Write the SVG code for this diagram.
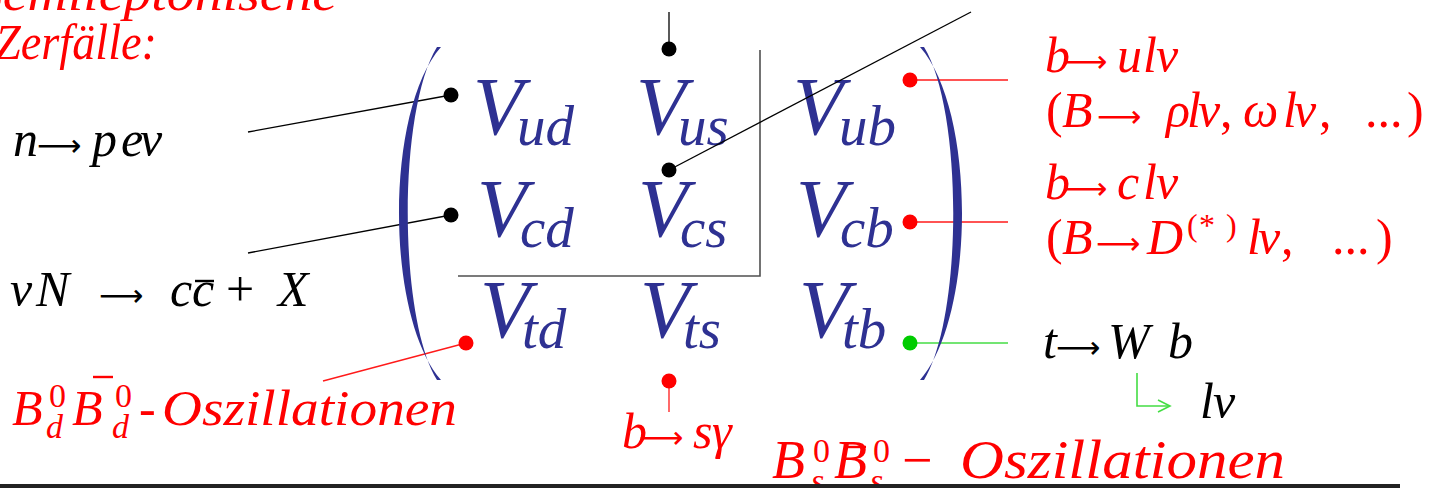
<svg xmlns="http://www.w3.org/2000/svg" width="1441" height="488" viewBox="0 0 1441 488">
<style>
.m{font-family:"Liberation Serif","Tinos","DejaVu Serif","Noto Serif",serif;font-style:italic;}
.u{font-family:"Liberation Serif","Tinos","DejaVu Serif","Noto Serif",serif;font-style:normal;}
.ar{font-family:"DejaVu Sans",sans-serif;font-style:normal;font-size:31px}
.red{fill:#ff0000}
.blk{fill:#000}
.blue{fill:#2e3192}
.V{font-size:82px}
.sub{font-size:57px}
.f50{font-size:50px}
.s34{font-size:34px}
.cb{stroke:#000;stroke-width:1.3;fill:none}
.cr{stroke:#ff1a1a;stroke-width:1.3;fill:none}
.cg{stroke:#44dd44;stroke-width:1.6;fill:none}
.grid{stroke:#505050;stroke-width:1.6;fill:none}
.paren{fill:#2e3192}
</style>
<rect width="1441" height="488" fill="#fff"/>

<g id="matrix-entries">
<g id="v-ud"><text class="m blue"><tspan class="V" x="473" y="134">V</tspan><tspan class="sub" x="517" y="145">ud</tspan></text></g>
<g id="v-us"><text class="m blue"><tspan class="V" x="636" y="134">V</tspan><tspan class="sub" x="678" y="145">us</tspan></text></g>
<g id="v-ub"><text class="m blue"><tspan class="V" x="793" y="134">V</tspan><tspan class="sub" x="839" y="145">ub</tspan></text></g>
<g id="v-cd"><text class="m blue"><tspan class="V" x="477" y="236">V</tspan><tspan class="sub" x="520" y="247">cd</tspan></text></g>
<g id="v-cs"><text class="m blue"><tspan class="V" x="638" y="236">V</tspan><tspan class="sub" x="680" y="247">cs</tspan></text></g>
<g id="v-cb"><text class="m blue"><tspan class="V" x="796" y="236">V</tspan><tspan class="sub" x="840" y="247">cb</tspan></text></g>
<g id="v-td"><text class="m blue"><tspan class="V" x="480" y="337">V</tspan><tspan class="sub" x="522" y="348">td</tspan></text></g>
<g id="v-ts"><text class="m blue"><tspan class="V" x="640" y="337">V</tspan><tspan class="sub" x="683" y="348">ts</tspan></text></g>
<g id="v-tb"><text class="m blue"><tspan class="V" x="799" y="337">V</tspan><tspan class="sub" x="842" y="348">tb</tspan></text></g>
</g>

<g id="grid">
<polyline class="grid" points="760,50 760,276 458,276"/>
</g>

<g id="connectors">
<line class="cb" x1="669" y1="12" x2="669" y2="49"/>
<circle cx="669" cy="49" r="7.5" fill="#000"/>
<line class="cb" x1="451" y1="95" x2="248" y2="132"/>
<circle cx="451" cy="95" r="7.5" fill="#000"/>
<line class="cb" x1="451" y1="215" x2="248" y2="253"/>
<circle cx="451" cy="215" r="7.5" fill="#000"/>
<line class="cb" x1="669" y1="170" x2="971" y2="12"/>
<circle cx="669" cy="170" r="7.5" fill="#000"/>
<line class="cr" x1="466" y1="343" x2="323" y2="381"/>
<circle cx="466" cy="343" r="7.5" fill="#ff0000"/>
<line class="cr" x1="669" y1="381" x2="669" y2="412"/>
<circle cx="669" cy="381" r="7.5" fill="#ff0000"/>
<line class="cr" x1="910" y1="80" x2="1008" y2="80"/>
<circle cx="910" cy="80" r="7.5" fill="#ff0000"/>
<line class="cr" x1="910" y1="222" x2="1008" y2="222"/>
<circle cx="910" cy="222" r="7.5" fill="#ff0000"/>
<line class="cg" x1="910" y1="343" x2="1008" y2="343"/>
<circle cx="910" cy="343" r="7.5" fill="#00cc00"/>
<polyline class="cg" points="1137,373 1137,406 1170,406"/>
<polyline class="cg" points="1158,400 1170,406 1158,412"/>
</g>

<g id="parens">
<path class="paren" d="M441 47 C385 110 385 316 441 380 L437 380 C398 316 398 110 437 47 Z"/>
<path class="paren" d="M920 47 C976 110 976 316 920 380 L924 380 C963 316 963 110 924 47 Z"/>
</g>

<g id="semileptonic">
<text class="m red f50" x="-25" y="10" textLength="362" lengthAdjust="spacingAndGlyphs">Semileptonische</text>
<text class="m red f50" x="-5" y="59" textLength="162" lengthAdjust="spacingAndGlyphs">Zerfälle:</text>
</g>

<g id="n-decay">
<text class="m blk f50" y="156"><tspan x="13">n</tspan><tspan class="ar" x="37">⟶</tspan><tspan x="92">p</tspan><tspan x="121">e</tspan><tspan x="140">ν</tspan></text>
</g>

<g id="nu-N">
<text class="m blk f50" y="306"><tspan x="10">ν</tspan><tspan x="36">N</tspan><tspan class="ar" x="99">⟶</tspan><tspan x="170">c</tspan><tspan x="192">c</tspan><tspan class="u" x="226">+</tspan><tspan x="278">X</tspan></text>
<line x1="195" y1="281" x2="214" y2="281" stroke="#000" stroke-width="2.4"/>
</g>

<g id="bd-osc">
<text class="m red f50" y="425"><tspan x="12">B</tspan><tspan x="72">B</tspan><tspan class="u" x="139">-</tspan><tspan x="162" textLength="295" lengthAdjust="spacingAndGlyphs">Oszillationen</tspan></text>
<text class="u red s34"><tspan x="49" y="407">0</tspan><tspan x="115" y="407">0</tspan></text>
<text class="m red s34"><tspan x="46" y="438">d</tspan><tspan x="112" y="438">d</tspan></text>
<line x1="93" y1="377" x2="113" y2="377" stroke="#ff0000" stroke-width="2.4"/>
</g>

<g id="b-sgamma">
<text class="m red f50" y="448"><tspan x="622">b</tspan><tspan class="ar" x="639">⟶</tspan><tspan x="693">s</tspan><tspan x="712">γ</tspan></text>
</g>

<g id="bs-osc">
<text class="m red" font-size="54" y="478"><tspan x="772">B</tspan><tspan x="834">B</tspan><tspan class="u" x="902">−</tspan><tspan x="960" textLength="325" lengthAdjust="spacingAndGlyphs">Oszillationen</tspan></text>
<text class="u red s34"><tspan x="813" y="462">0</tspan><tspan x="873" y="462">0</tspan></text>
<text class="m red s34"><tspan x="811" y="492">s</tspan><tspan x="870" y="492">s</tspan></text>
<line x1="846" y1="447" x2="866" y2="447" stroke="#ff0000" stroke-width="2.4"/>
</g>

<g id="b-ulnu">
<text class="m red f50" y="72"><tspan x="1045">b</tspan><tspan class="ar" x="1063">⟶</tspan><tspan x="1117">u</tspan><tspan x="1143">l</tspan><tspan x="1156">ν</tspan></text>
<text class="m red f50" y="127"><tspan class="u" x="1046">(</tspan><tspan x="1062">B</tspan><tspan class="ar" x="1097">⟶</tspan><tspan x="1166">ρ</tspan><tspan x="1187">l</tspan><tspan x="1198">ν</tspan><tspan class="u" x="1220">,</tspan><tspan x="1243">ω</tspan><tspan x="1283">l</tspan><tspan x="1294">ν</tspan><tspan class="u" x="1319">,</tspan><tspan class="u" x="1365">...</tspan><tspan class="u" x="1407">)</tspan></text>
</g>

<g id="b-clnu">
<text class="m red f50" y="199"><tspan x="1045">b</tspan><tspan class="ar" x="1063">⟶</tspan><tspan x="1117">c</tspan><tspan x="1143">l</tspan><tspan x="1156">ν</tspan></text>
<text class="m red f50" y="254"><tspan class="u" x="1046">(</tspan><tspan x="1062">B</tspan><tspan class="ar" x="1096">⟶</tspan><tspan x="1147">D</tspan><tspan x="1247">l</tspan><tspan x="1258">ν</tspan><tspan class="u" x="1281">,</tspan><tspan class="u" x="1332">...</tspan><tspan class="u" x="1376">)</tspan></text>
<text class="u red" font-size="32" y="236"><tspan x="1187">(</tspan><tspan x="1199">*</tspan><tspan x="1226">)</tspan></text>
</g>

<g id="t-wb">
<text class="m blk f50" y="358"><tspan x="1043">t</tspan><tspan class="ar" x="1056">⟶</tspan><tspan x="1108">W</tspan><tspan x="1168">b</tspan></text>
</g>

<g id="l-nu">
<text class="m blk f50" y="418"><tspan x="1200">l</tspan><tspan x="1213">ν</tspan></text>
</g>

<rect id="bottom-bar" x="0" y="484" width="1400" height="4" fill="#222"/>
</svg>
